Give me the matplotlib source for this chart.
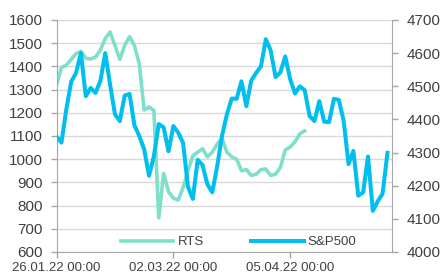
import matplotlib.pyplot as plt
import numpy as np

plt.rcParams["font.family"] = ["Liberation Sans", "DejaVu Sans"]

# x axis is a category axis (US trading days), labels every 24 points
tick_pos = [0, 24, 48]
tick_labels = ["26.01.22 00:00", "02.03.22 00:00", "05.04.22 00:00"]

rts = [1320, 1395, 1405, 1430, 1455, 1465, 1435, 1432, 1440, 1470,
       1520, 1548, 1490, 1430, 1490, 1528, 1490, 1410, 1212, 1225,
       1210, 747, 939, 860, 832, 824, 878, 950, 1015, 1030,
       1045, 1010, 1030, 1065, 1090, 1030, 1010, 1000, 950, 955,
       930, 935, 955, 958, 930, 935, 965, 1040, 1052, 1075,
       1110, 1122]

sp500 = [4348, 4330, 4430, 4514, 4540, 4600, 4470, 4495, 4480, 4516,
         4600, 4505, 4415, 4395, 4472, 4477, 4382, 4350, 4310, 4230,
         4289, 4386, 4376, 4304, 4380, 4360, 4329, 4197, 4160, 4278,
         4262, 4204, 4180, 4258, 4350, 4415, 4463, 4462, 4515, 4440,
         4517, 4540, 4560, 4642, 4608, 4528, 4542, 4590, 4522, 4478,
         4500, 4488, 4410, 4395, 4455, 4393, 4392, 4462, 4459, 4396,
         4265, 4305, 4170, 4180, 4288, 4124, 4153, 4176, 4299]

rts_color = "#7ee0c8"
sp_color = "#00bfef"
text_color = "#404040"
axis_color = "#a6a6a6"

fig = plt.figure(figsize=(4.42, 2.73), dpi=100)
ax = fig.add_axes([0.128, 0.077, 0.7596, 0.8498])
ax2 = ax.twinx()

l1, = ax.plot(np.arange(len(rts)), rts, color=rts_color, lw=2.6, label="RTS",
              solid_joinstyle="round")
l2, = ax2.plot(np.arange(len(sp500)), sp500, color=sp_color, lw=2.9, label="S&P500",
               solid_joinstyle="round")

ax.set_xlim(0, 69)
ax.set_ylim(600, 1600)
ax2.set_ylim(4000, 4700)
ax.set_yticks(np.arange(600, 1601, 100))
ax2.set_yticks(np.arange(4000, 4701, 100))
ax.set_xticks(tick_pos)
ax.set_xticklabels(tick_labels)

ax.grid(axis="y", color="#d9d9d9", lw=1)
ax.set_axisbelow(True)

for a in (ax, ax2):
    a.spines["top"].set_visible(False)
    for s in ("left", "right", "bottom"):
        a.spines[s].set_color(axis_color)
    a.tick_params(color=axis_color, length=4, width=1)
ax.spines["right"].set_visible(False)
ax2.spines["left"].set_visible(False)
ax2.spines["bottom"].set_visible(False)

ax.tick_params(axis="y", labelsize=11, labelcolor=text_color, pad=6)
ax.tick_params(axis="x", labelsize=9.5, labelcolor=text_color, pad=3)
ax2.tick_params(axis="y", labelsize=11, labelcolor=text_color, pad=6.5)

leg = ax2.legend(handles=[l1, l2], loc="center", ncol=2, frameon=False,
                 bbox_to_anchor=(0.54, 1 - 242 / 273), bbox_transform=fig.transFigure,
                 fontsize=9.5, handlelength=4.0, handletextpad=0.3,
                 columnspacing=3.6)
for t in leg.get_texts():
    t.set_color(text_color)

fig.savefig("out.png", dpi=100)
